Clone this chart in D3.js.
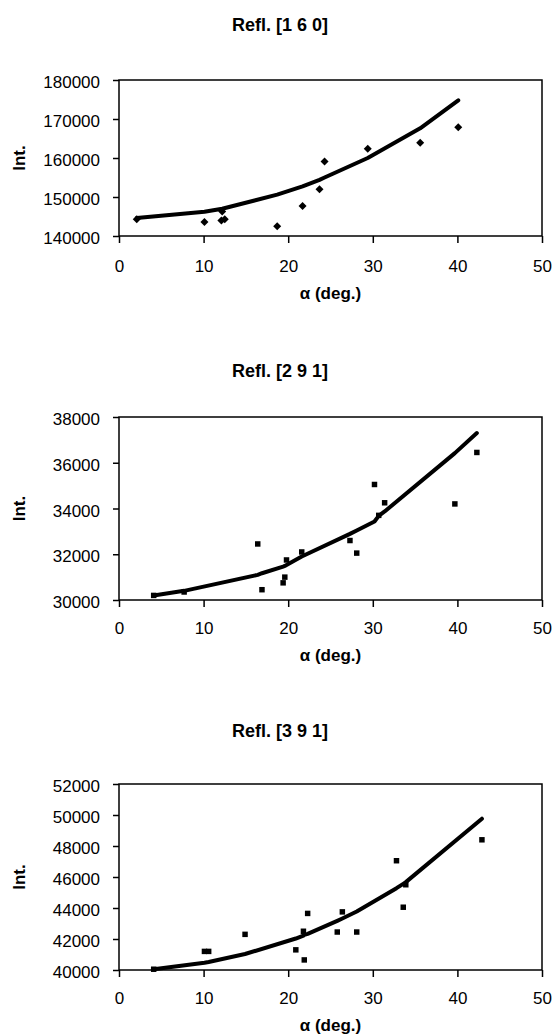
<!DOCTYPE html>
<html>
<head>
<meta charset="utf-8">
<script src="https://cdn.jsdelivr.net/npm/d3@7"></script>
<style>
  body { margin: 0; background: #fff; }
  svg { display: block; font-family: "Liberation Sans", Arial, sans-serif; }
</style>
</head>
<body>
<div id="chart"></div>
<script>
// data
const titles = ['Refl. [1 6 0]', 'Refl. [2 9 1]', 'Refl. [3 9 1]'];
const xTicks = [0, 10, 20, 30, 40, 50];

// Refl. [1 6 0]
const alpha160 = [2.1, 10.1, 12.2, 12.1, 12.5, 18.7, 21.7, 23.7, 24.3, 29.4, 35.6, 40.1];
const int160 = [144300, 143600, 146300, 144000, 144300, 142500, 147700, 152000, 159100, 162400, 163900, 167900];
const fitAlpha160 = [2.1, 10.1, 12.2, 18.7, 21.7, 23.7, 24.3, 29.4, 35.6, 40.1];
const fitInt160 = [144600, 146200, 147000, 150600, 152700, 154400, 155000, 160000, 167600, 174800];
const yTicks160 = [140000, 150000, 160000, 170000, 180000];

// Refl. [2 9 1]
const alpha291 = [4.1, 7.7, 16.4, 16.9, 19.4, 19.6, 19.8, 21.6, 27.3, 28.1, 30.2, 30.7, 31.4, 39.7, 42.3];
const int291 = [30200, 30350, 32450, 30450, 30750, 31000, 31750, 32100, 32600, 32050, 35050, 33700, 34250, 34200, 36450];
const fitAlpha291 = [4.1, 7.7, 16.4, 16.9, 19.4, 19.6, 19.8, 21.6, 27.3, 28.1, 30.2, 30.7, 31.4, 39.7, 42.3];
const fitInt291 = [30200, 30400, 31100, 31170, 31460, 31490, 31530, 31900, 32890, 33040, 33430, 33680, 33870, 36420, 37300];
const yTicks291 = [30000, 32000, 34000, 36000, 38000];

// Refl. [3 9 1]
const alpha391 = [4.1, 10.1, 10.6, 14.9, 20.9, 21.8, 21.9, 22.3, 25.8, 26.4, 28.1, 32.8, 33.6, 33.9, 42.9];
const int391 = [40050, 41200, 41200, 42300, 41300, 42500, 40650, 43650, 42450, 43750, 42450, 47050, 44050, 45500, 48400];
const fitAlpha391 = [4.1, 10.1, 10.6, 14.9, 20.9, 21.8, 21.9, 22.3, 25.8, 26.4, 28.1, 32.8, 33.6, 33.9, 42.9];
const fitInt391 = [40050, 40470, 40520, 41030, 42030, 42220, 42260, 42330, 43170, 43320, 43770, 45280, 45560, 45670, 49760];
const yTicks391 = [40000, 42000, 44000, 46000, 48000, 50000, 52000];

let width = 556,
    height = 1035,
    plotLeft = 119,
    plotRight = 542;

let panels = [
  {title: titles[0], alpha: alpha160, int: int160, fitAlpha: fitAlpha160, fitInt: fitInt160, yTicks: yTicks160,
   marker: 'diamond', top: 80, bottom: 236, titleY: 31, tickLabelY: 272, axisTitleY: 299},
  {title: titles[1], alpha: alpha291, int: int291, fitAlpha: fitAlpha291, fitInt: fitInt291, yTicks: yTicks291,
   marker: 'square', top: 417, bottom: 600, titleY: 377, tickLabelY: 634, axisTitleY: 661},
  {title: titles[2], alpha: alpha391, int: int391, fitAlpha: fitAlpha391, fitInt: fitInt391, yTicks: yTicks391,
   marker: 'square', top: 784, bottom: 970, titleY: 737, tickLabelY: 1004, axisTitleY: 1031}
];

let svg = d3.select('#chart')
  .append('svg')
  .attr('width', width)
  .attr('height', height);

panels.forEach(drawPanel);

function drawPanel(p) {
  let g = svg.append('g');

  let x = d3.scaleLinear()
    .domain([0, 50])
    .range([plotLeft, plotRight]);

  let y = d3.scaleLinear()
    .domain([p.yTicks[0], p.yTicks[p.yTicks.length - 1]])
    .range([p.bottom, p.top]);

  // title
  g.append('text')
    .attr('x', 280)
    .attr('y', p.titleY)
    .attr('text-anchor', 'middle')
    .style('font-size', '18px')
    .style('font-weight', 'bold')
    .text(p.title);

  // axes
  let xAxis = g.append('g')
    .attr('transform', `translate(0, ${p.bottom})`)
    .call(d3.axisBottom(x)
      .tickValues(xTicks)
      .tickSize(7)
      .tickSizeOuter(0)
      .tickPadding(p.tickLabelY - p.bottom - 19));

  let yAxis = g.append('g')
    .attr('transform', `translate(${plotLeft}, 0)`)
    .call(d3.axisLeft(y)
      .tickValues(p.yTicks)
      .tickFormat(d3.format('d'))
      .tickSize(6)
      .tickSizeOuter(0)
      .tickPadding(13));

  [xAxis, yAxis].forEach(a => {
    a.select('.domain').remove();
    a.selectAll('line').attr('stroke', '#000').attr('stroke-width', 1.5);
    a.selectAll('text')
      .attr('fill', '#000')
      .style('font-size', '17px');
  });
  yAxis.selectAll('text').attr('dy', '0.45em');

  // plot box
  g.append('rect')
    .attr('x', plotLeft)
    .attr('y', p.top)
    .attr('width', plotRight - plotLeft)
    .attr('height', p.bottom - p.top)
    .attr('fill', 'none')
    .attr('stroke', '#000')
    .attr('stroke-width', 1.5);

  // axis titles
  g.append('text')
    .attr('x', (plotLeft + plotRight) / 2)
    .attr('y', p.axisTitleY)
    .attr('text-anchor', 'middle')
    .style('font-size', '17px')
    .style('font-weight', 'bold')
    .text('α (deg.)');

  g.append('text')
    .attr('transform', `translate(25, ${(p.top + p.bottom) / 2}) rotate(-90)`)
    .attr('text-anchor', 'middle')
    .style('font-size', '17px')
    .style('font-weight', 'bold')
    .text('Int.');

  // fitted curve
  let line = d3.line()
    .x(d => x(d[0]))
    .y(d => y(d[1]));

  g.append('path')
    .datum(d3.zip(p.fitAlpha, p.fitInt))
    .attr('d', line)
    .attr('fill', 'none')
    .attr('stroke', '#000')
    .attr('stroke-width', 4)
    .attr('stroke-linejoin', 'round')
    .attr('stroke-linecap', 'round');

  // measured points
  let symbol = d3.symbol()
    .type(d3.symbolSquare)
    .size(p.marker === 'diamond' ? 32 : 30);

  g.append('g')
    .selectAll('path')
    .data(d3.zip(p.alpha, p.int))
    .enter()
    .append('path')
    .attr('d', symbol)
    .attr('transform', d => `translate(${x(d[0])}, ${y(d[1])})` + (p.marker === 'diamond' ? ' rotate(45)' : ''))
    .attr('fill', '#000');
}
</script>
</body>
</html>
